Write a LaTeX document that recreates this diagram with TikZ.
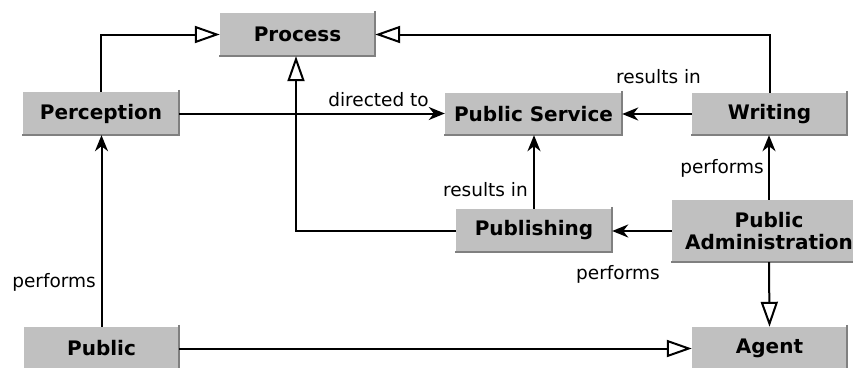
\documentclass[tikz,border=0pt]{standalone}
\usepackage{fontspec}
\setmainfont{DejaVu Sans}
\usetikzlibrary{arrows.meta}
\definecolor{boxgray}{HTML}{C0C0C0}
\definecolor{edgegray}{HTML}{808080}
\begin{document}
\begin{tikzpicture}[x=1pt,y=-1pt,
  box/.style={fill=boxgray, inner sep=0pt, align=center,
    font=\fontsize{20}{22}\selectfont\bfseries},
  lab/.style={inner sep=0pt, font=\fontsize{18.5}{22}\selectfont},
  conn/.style={line width=2pt},
  arr/.style={conn, -{Stealth[length=16pt,width=13pt,inset=5pt]}},
  inh/.style={conn, -{Triangle[open,length=25pt,width=17pt,fill=white]}}]
\useasboundingbox (0,0) rectangle (853,367);
\clip (0,0) rectangle (853,367);
\node[box, minimum width=155pt, minimum height=43pt] (proc) at (297.5,34.5) {Process};
\node[box, minimum width=156pt, minimum height=43pt] (perc) at (101,113.5) {Perception};
\node[box, minimum width=177pt, minimum height=42pt] (ps) at (533.5,114) {Public Service};
\node[box, minimum width=155pt, minimum height=42pt] (wr) at (769.5,114) {Writing};
\node[box, minimum width=156pt, minimum height=43pt] (pubg) at (534,230.5) {Publishing};
\node[box, minimum width=194pt, minimum height=62pt] (pa) at (769,231) {Public\\Administration};
\node[box, minimum width=155pt, minimum height=43pt] (agent) at (769.5,348.5) {Agent};
\node[box, minimum width=155pt, minimum height=43pt] (public) at (101.5,348.5) {Public};
\foreach \n in {proc,perc,ps,wr,pubg,pa,agent,public}
  \draw[edgegray, line width=1.8pt] ([yshift=2pt]\n.north east) -- (\n.south east) -- ([xshift=-1pt]\n.south west);
% generalisations
\draw[inh] (perc.north) |- (proc.west);
\draw[inh] (wr.north) |- (proc.east);
\draw[inh] (pubg.west) -| ([xshift=-1.5pt]proc.south);
\draw[inh] (pa.south) -- (agent.north);
\draw[inh] (public.east) -- (agent.west);
% associations
\draw[arr] (perc.east) -- (perc.east -| ps.west);
\draw[arr] (wr.west) -- (ps.east);
\draw[arr] (pubg.north) -- (pubg.north |- ps.south);
\draw[arr] (pa.north) -- (pa.north |- wr.south);
\draw[arr] (pa.west) -- (pa.west -| pubg.east);
\draw[arr] (public.north) -- (public.north |- perc.south);
% labels
\node[lab, anchor=base east] (l1) at (429,106) {directed to};
\node[lab, anchor=base west] (l2) at (616,83) {results in};
\node[lab, anchor=base east] (l3) at (528,196) {results in};
\node[lab, anchor=base east] (l4) at (764,173) {performs};
\node[lab, anchor=base west] (l5) at (576,279) {performs};
\node[lab, anchor=base east] (l6) at (96,287) {performs};
\end{tikzpicture}
\end{document}
